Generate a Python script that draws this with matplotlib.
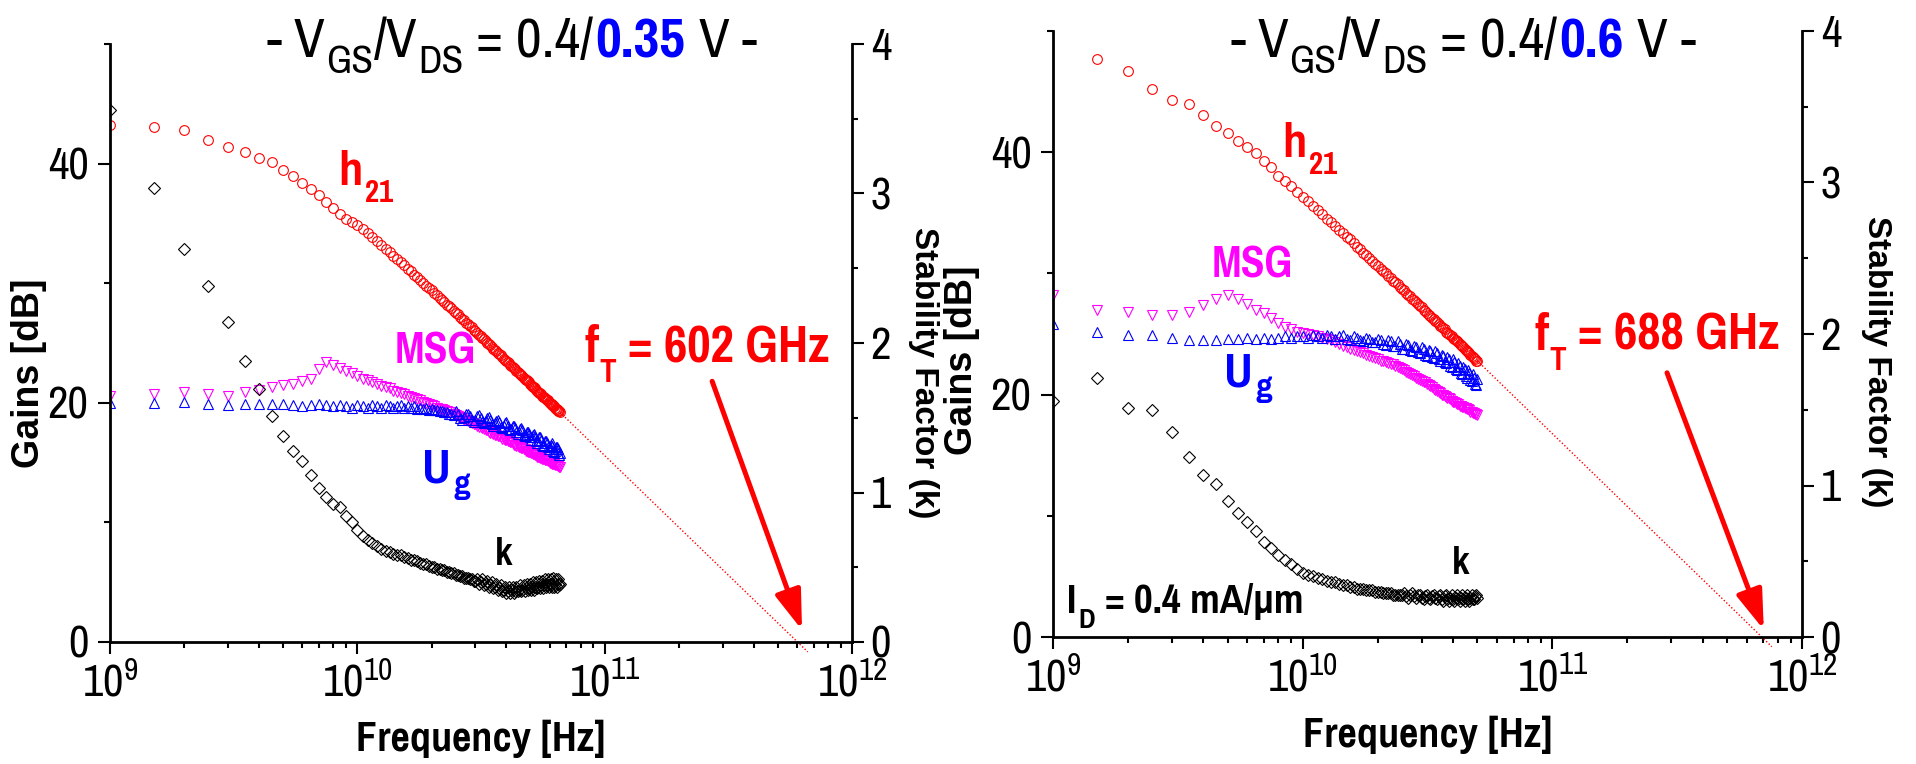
import numpy as np
import matplotlib
matplotlib.use('Agg')
import matplotlib.pyplot as plt
from matplotlib import font_manager
from matplotlib.ticker import MultipleLocator, LogLocator, NullFormatter

# narrow face for horizontal text (the original uses an Arial Narrow look)
weights = {}
for fe in font_manager.fontManager.ttflist:
    weights.setdefault(fe.name, set()).add(fe.weight)
NARROW = 'Liberation Sans'
for cand in ['Pragati Narrow', 'PT Sans Narrow', 'Barlow Semi Condensed', 'Asap Condensed']:
    ws = weights.get(cand, set())
    if 400 in ws and 700 in ws:
        NARROW = cand
        break

plt.rcParams['font.family'] = [NARROW, 'Liberation Sans', 'DejaVu Sans']
plt.rcParams['mathtext.fontset'] = 'custom'
plt.rcParams['mathtext.rm'] = NARROW
plt.rcParams['mathtext.bf'] = NARROW + ':bold'

RED, MAG, BLUE = '#FF0000', '#FF00FF', '#0000FF'
WIDE = ['Liberation Sans', 'DejaVu Sans']

# ---- data: measured sweep, 0.5 GHz step ----
freq_a = np.arange(1.0, 66.5, 0.5)   # GHz, V_DS = 0.35 V
freq_b = np.arange(1.0, 50.5, 0.5)   # GHz, V_DS = 0.6 V
ft_a, ft_b = 602, 688                # GHz

h21_a = [43.2, 43.1, 42.8, 42.0, 41.4, 41.0, 40.5, 40.1, 39.5, 39.0,
         38.4, 37.9, 37.4, 36.8, 36.3, 35.8, 35.4, 35.1,
         34.9, 34.5, 34.2, 33.9, 33.5, 33.2, 32.9, 32.6, 32.3, 32.0,
         31.8, 31.5, 31.2, 31.0, 30.7, 30.5, 30.3, 30.0, 29.8, 29.6,
         29.4, 29.2, 29.0, 28.8, 28.6, 28.4, 28.2, 28.1, 27.9, 27.7,
         27.5, 27.4, 27.2, 27.0, 26.9, 26.7, 26.6, 26.4, 26.3, 26.1,
         26.0, 25.8, 25.7, 25.6, 25.4, 25.3, 25.2, 25.0, 24.9, 24.8,
         24.7, 24.5, 24.4, 24.3, 24.2, 24.1, 24.0, 23.8, 23.7, 23.6,
         23.5, 23.4, 23.3, 23.2, 23.1, 23.0, 22.9, 22.8, 22.7, 22.6,
         22.5, 22.4, 22.3, 22.2, 22.1, 22.0, 21.9, 21.9, 21.8, 21.7,
         21.6, 21.5, 21.4, 21.3, 21.3, 21.2, 21.1, 21.0, 20.9, 20.8,
         20.8, 20.7, 20.6, 20.5, 20.5, 20.4, 20.3, 20.2, 20.2, 20.1,
         20.0, 19.9, 19.9, 19.8, 19.7, 19.7, 19.6, 19.5, 19.5, 19.4,
         19.3, 19.3, 19.2]
msg_a = [20.6, 20.7, 20.9, 20.7, 20.6, 20.9, 21.1, 21.3, 21.5, 21.6,
         21.8, 22.0, 22.8, 23.4, 23.2, 22.9, 22.7, 22.5,
         22.2, 22.0, 21.9, 21.7, 21.6, 21.4, 21.3, 21.2, 21.0, 20.9,
         20.8, 20.7, 20.6, 20.5, 20.4, 20.3, 20.2, 20.1, 20.0, 19.9,
         19.8, 19.7, 19.6, 19.5, 19.5, 19.4, 19.3, 19.2, 19.2, 19.1,
         19.0, 18.9, 18.8, 18.7, 18.6, 18.6, 18.5, 18.4, 18.3, 18.2,
         18.2, 18.1, 18.0, 18.0, 17.9, 17.8, 17.7, 17.7, 17.6, 17.5,
         17.5, 17.4, 17.3, 17.3, 17.2, 17.2, 17.1, 17.0, 17.0, 16.9,
         16.9, 16.8, 16.8, 16.7, 16.7, 16.6, 16.5, 16.5, 16.4, 16.4,
         16.3, 16.3, 16.2, 16.2, 16.1, 16.1, 16.0, 16.0, 15.9, 15.9,
         15.9, 15.8, 15.8, 15.7, 15.7, 15.6, 15.6, 15.5, 15.5, 15.5,
         15.4, 15.4, 15.3, 15.3, 15.3, 15.2, 15.2, 15.2, 15.1, 15.1,
         15.0, 15.0, 15.0, 14.9, 14.9, 14.9, 14.8, 14.8, 14.8, 14.7,
         14.7, 14.6, 14.6]
ug_a = [20.0, 20.0, 20.1, 19.9, 19.8, 19.9, 19.9, 19.9, 19.9, 19.8,
        19.7, 19.8, 19.9, 19.8, 19.7, 19.8, 19.7, 19.6,
        19.8, 19.7, 19.6, 19.8, 19.7, 19.6, 19.8, 19.7, 19.6, 19.7,
        19.8, 19.6, 19.7, 19.6, 19.7, 19.5, 19.6, 19.5, 19.6, 19.4,
        19.5, 19.4, 19.4, 19.3, 19.3, 19.2, 19.2, 19.1, 19.1, 19.0,
        19.3, 19.1, 18.7, 18.6, 18.8, 19.1, 19.1, 18.9, 18.6, 18.4,
        18.6, 18.9, 19.0, 18.7, 18.4, 18.3, 18.5, 18.7, 18.8, 18.6,
        18.2, 18.1, 18.3, 18.5, 18.6, 18.4, 18.0, 17.9, 18.1, 18.3,
        18.4, 18.1, 17.8, 17.7, 17.8, 18.1, 18.1, 17.9, 17.6, 17.4,
        17.6, 17.8, 17.9, 17.7, 17.3, 17.2, 17.3, 17.6, 17.6, 17.4,
        17.1, 16.9, 17.1, 17.3, 17.4, 17.1, 16.8, 16.6, 16.8, 17.1,
        17.1, 16.9, 16.5, 16.4, 16.5, 16.8, 16.8, 16.6, 16.3, 16.1,
        16.3, 16.5, 16.6, 16.4, 16.0, 15.9, 16.0, 16.3, 16.3, 16.1,
        15.8, 15.6, 15.8]
k_a = [3.56, 3.04, 2.63, 2.38, 2.14, 1.88, 1.69, 1.51, 1.38, 1.28,
       1.21, 1.12, 1.03, 0.97, 0.92, 0.90, 0.84, 0.80,
       0.75, 0.71, 0.68, 0.66, 0.64, 0.62, 0.61, 0.60, 0.59, 0.58,
       0.58, 0.57, 0.56, 0.55, 0.55, 0.54, 0.53, 0.52, 0.52, 0.51,
       0.50, 0.50, 0.49, 0.49, 0.48, 0.48, 0.47, 0.47, 0.46, 0.46,
       0.45, 0.45, 0.44, 0.44, 0.43, 0.43, 0.43, 0.42, 0.42, 0.41,
       0.41, 0.42, 0.39, 0.40, 0.42, 0.38, 0.39, 0.41, 0.37, 0.38,
       0.40, 0.36, 0.37, 0.39, 0.35, 0.36, 0.38, 0.34, 0.35, 0.37,
       0.33, 0.34, 0.37, 0.33, 0.35, 0.37, 0.33, 0.34, 0.37, 0.34,
       0.35, 0.38, 0.34, 0.35, 0.38, 0.34, 0.36, 0.39, 0.35, 0.36,
       0.39, 0.35, 0.37, 0.40, 0.35, 0.37, 0.40, 0.36, 0.37, 0.41,
       0.36, 0.38, 0.41, 0.36, 0.38, 0.42, 0.37, 0.38, 0.42, 0.37,
       0.39, 0.42, 0.37, 0.39, 0.43, 0.37, 0.39, 0.42, 0.37, 0.39,
       0.42, 0.38, 0.39]

h21_b = [np.nan, 47.7, 46.7, 45.2, 44.3, 44.0, 43.1, 42.2, 41.6, 40.9,
         40.4, 39.9, 39.3, 38.8, 38.0, 37.6, 37.2, 36.7,
         36.3, 36.0, 35.6, 35.2, 34.9, 34.5, 34.2, 33.9, 33.6, 33.3,
         33.0, 32.8, 32.5, 32.2, 32.0, 31.7, 31.5, 31.3, 31.0, 30.8,
         30.6, 30.4, 30.2, 30.0, 29.8, 29.6, 29.4, 29.3, 29.1, 28.9,
         28.7, 28.6, 28.4, 28.2, 28.1, 27.9, 27.8, 27.6, 27.5, 27.3,
         27.2, 27.0, 26.9, 26.7, 26.6, 26.5, 26.3, 26.2, 26.1, 26.0,
         25.8, 25.7, 25.6, 25.5, 25.4, 25.2, 25.1, 25.0, 24.9, 24.8,
         24.7, 24.6, 24.5, 24.4, 24.3, 24.2, 24.1, 24.0, 23.9, 23.8,
         23.7, 23.6, 23.5, 23.4, 23.3, 23.2, 23.1, 23.0, 22.9, 22.8,
         22.8]
msg_b = [28.2, 27.0, 26.8, 26.6, 26.6, 26.8, 27.4, 27.9, 28.2, 27.9,
         27.5, 27.0, 26.7, 26.3, 25.9, 25.6, 25.4, 25.2,
         25.1, 25.0, 24.9, 24.8, 24.7, 24.6, 24.5, 24.3, 24.2, 24.0,
         23.9, 23.8, 23.7, 23.6, 23.5, 23.4, 23.3, 23.2, 23.1, 23.0,
         22.9, 22.8, 22.8, 22.7, 22.6, 22.5, 22.5, 22.4, 22.3, 22.2,
         22.1, 22.0, 21.9, 21.8, 21.7, 21.6, 21.5, 21.4, 21.3, 21.2,
         21.1, 21.0, 21.0, 20.9, 20.8, 20.7, 20.6, 20.5, 20.4, 20.3,
         20.2, 20.1, 20.0, 20.0, 19.9, 19.8, 19.7, 19.7, 19.6, 19.5,
         19.4, 19.4, 19.3, 19.2, 19.2, 19.1, 19.1, 19.0, 19.0, 18.9,
         18.9, 18.8, 18.8, 18.7, 18.6, 18.6, 18.5, 18.5, 18.4, 18.4,
         18.3]
ug_b = [25.8, 25.2, 24.9, 24.9, 24.7, 24.5, 24.5, 24.5, 24.6, 24.6,
        24.7, 24.6, 24.7, 24.6, 24.7, 24.8, 24.7, 24.8,
        24.8, 24.7, 24.9, 24.8, 24.7, 24.9, 24.8, 24.6, 24.8, 24.9,
        24.6, 24.5, 24.8, 24.7, 24.5, 24.4, 24.7, 24.6, 24.3, 24.3,
        24.6, 24.5, 24.2, 24.1, 24.5, 24.4, 24.0, 24.0, 24.4, 24.2,
        23.8, 23.8, 24.2, 24.1, 23.7, 23.6, 24.0, 23.9, 23.5, 23.4,
        23.9, 23.8, 23.3, 23.2, 23.7, 23.6, 23.1, 23.0, 23.6, 23.4,
        22.9, 22.8, 23.3, 23.2, 22.7, 22.6, 23.1, 22.9, 22.4, 22.3,
        22.9, 22.7, 22.1, 22.0, 22.6, 22.4, 21.8, 21.7, 22.3, 22.1,
        21.5, 21.4, 22.0, 21.8, 21.2, 21.1, 21.7, 21.4, 20.9, 20.8,
        21.3]
k_b = [1.56, 1.71, 1.51, 1.50, 1.35, 1.19, 1.07, 1.01, 0.90, 0.82,
       0.76, 0.70, 0.63, 0.59, 0.54, 0.51, 0.48, 0.45,
       0.42, 0.41, 0.40, 0.39, 0.38, 0.37, 0.36, 0.36, 0.35, 0.34,
       0.34, 0.33, 0.33, 0.32, 0.32, 0.32, 0.31, 0.31, 0.31, 0.30,
       0.30, 0.30, 0.29, 0.29, 0.29, 0.29, 0.28, 0.28, 0.28, 0.28,
       0.28, 0.29, 0.27, 0.26, 0.28, 0.29, 0.27, 0.26, 0.28, 0.28,
       0.26, 0.25, 0.27, 0.28, 0.26, 0.25, 0.27, 0.28, 0.26, 0.25,
       0.27, 0.28, 0.25, 0.24, 0.27, 0.28, 0.25, 0.24, 0.26, 0.28,
       0.25, 0.24, 0.26, 0.28, 0.25, 0.24, 0.26, 0.28, 0.25, 0.24,
       0.26, 0.28, 0.25, 0.24, 0.26, 0.28, 0.25, 0.25, 0.27, 0.28,
       0.26]

W, H = 1916, 764
fig = plt.figure(figsize=(W / 100, H / 100), dpi=100)
R = fig.canvas.get_renderer()


def rich(ax, x, y, parts, xycoords='data', ha='left'):
    # parts: (text, size, color, weight, dy_px, gap_px) laid out left to right
    arts = [ax.annotate(s, xy=(x, y), xycoords=xycoords, xytext=(0, 0),
                        textcoords='offset pixels', fontsize=sz, color=c,
                        fontweight=w, va='baseline', ha='left', annotation_clip=False)
            for s, sz, c, w, dy, gap in parts]
    widths = [a.get_window_extent(R).width for a in arts]
    ox = 0.0
    if ha == 'center':
        ox = -(sum(widths) + sum(p[5] for p in parts)) / 2
    for a, wd, p in zip(arts, widths, parts):
        ox += p[5]
        a.xyann = (ox, p[4])
        ox += wd


def panel(rect, freq, h21, msg, ug, k, ft, arrow_from, arrow_to):
    f = freq * 1e9
    ax = fig.add_axes(rect)
    ax2 = ax.twinx()

    ax.plot(f, h21, 'o', ls='none', mfc='none', mec=RED, ms=7, mew=0.8)
    ax.plot(f, msg, 'v', ls='none', mfc='none', mec=MAG, ms=7.5, mew=0.8)
    ax.plot(f, ug, '^', ls='none', mfc='none', mec=BLUE, ms=7.5, mew=0.8)
    ax2.plot(f, k, 'D', ls='none', mfc='none', mec='black', ms=6, mew=0.8)

    # -20 dB/dec extrapolation of h21 down to fT
    f_last, g_last = f[-1], h21[-1]
    f_end = ft * 1e9 * 1.1
    ax.plot([f_last, f_end], [g_last, g_last - 20 * np.log10(f_end / f_last)],
            color=RED, lw=1.0, ls=(0, (1, 1.5)), clip_on=False)
    ax.annotate('', xy=arrow_to, xytext=arrow_from,
                arrowprops=dict(arrowstyle='-|>,head_length=1.2,head_width=0.4',
                                color=RED, lw=3.6, mutation_scale=20,
                                shrinkA=0, shrinkB=0))

    ax.set_xscale('log')
    ax.set_xlim(1e9, 1e12)
    ax.set_ylim(0, 50)
    ax2.set_ylim(0, 4)
    ax.xaxis.set_major_locator(LogLocator(base=10, numticks=10))
    ax.xaxis.set_minor_locator(LogLocator(base=10, subs=np.arange(2, 10), numticks=30))
    ax.xaxis.set_minor_formatter(NullFormatter())
    ax.yaxis.set_major_locator(MultipleLocator(20))
    ax.yaxis.set_minor_locator(MultipleLocator(10))
    ax2.yaxis.set_major_locator(MultipleLocator(1))
    ax2.yaxis.set_minor_locator(MultipleLocator(0.5))

    for a in (ax, ax2):
        a.spines['top'].set_visible(False)
        for s in a.spines.values():
            s.set_linewidth(2)
        a.tick_params(which='major', direction='out', length=8.5, width=1.5, labelsize=35, pad=5)
        a.tick_params(which='minor', direction='out', length=4.5, width=1.5)
    ax.spines['right'].set_visible(False)
    ax2.spines['left'].set_visible(False)
    ax2.spines['bottom'].set_visible(False)
    ax.tick_params(axis='y', which='major', pad=7)
    ax.tick_params(axis='x', which='major', labelsize=35, pad=6)

    ax.set_xlabel('Frequency [Hz]', fontsize=33, fontweight='bold')
    ax.set_ylabel('Gains [dB]', fontsize=27, fontweight='bold', family=WIDE)
    ax2.set_ylabel('Stability Factor (k)', fontsize=24, fontweight='bold', rotation=-90,
                   family=WIDE)
    for lab in (ax.xaxis.label, ax.yaxis.label, ax2.yaxis.label):
        lab.set_va('center')
        lab.set_ha('center')
    return ax, ax2


def labels(ax, ft, pos):
    b = 'bold'
    rich(ax, *pos['h21'], [('h', 38, RED, b, 0, 0), ('21', 24, RED, b, -17, 2)])
    ax.text(*pos['msg'], 'MSG', color=MAG, fontsize=34, fontweight=b)
    rich(ax, *pos['ug'], [('U', 38, BLUE, b, 0, 0), ('g', 26, BLUE, b, -11, 3)])
    ax.text(*pos['k'], 'k', color='black', fontsize=30, fontweight=b)
    rich(ax, *pos['ft'], [('f', 40, RED, b, 0, 0), ('T', 26, RED, b, -20, 1),
                          ('= %d GHz' % ft, 40, RED, b, 0, 12)])


# left panel: V_DS = 0.35 V
axa, axa2 = panel([110 / W, 1 - 642 / H, 742 / W, 598 / H], freq_a, h21_a, msg_a, ug_a, k_a,
                  ft_a, (2.72e11, 21.8), (6.28e11, 1.0))
axa.xaxis.set_label_coords(0.5, -0.162)
axa.yaxis.set_label_coords(-0.109, 0.45)
axa2.yaxis.set_label_coords(1.096, 0.45)
labels(axa, ft_a, dict(h21=(8.4e9, 38.2), msg=(14.2e9, 23.3), ug=(18.2e9, 13.3),
                       k=(3.6e10, 6.4), ft=(8.3e10, 23.4)))

# right panel: V_DS = 0.6 V
axb, axb2 = panel([1053 / W, 1 - 637 / H, 749 / W, 606 / H], freq_b, h21_b, msg_b, ug_b, k_b,
                  ft_b, (2.88e11, 21.8), (7.03e11, 0.6))
axb.xaxis.set_label_coords(0.5, -0.162)
axb.yaxis.set_label_coords(-0.1215, 0.457)
axb2.yaxis.set_label_coords(1.10, 0.455)
labels(axb, ft_b, dict(h21=(8.3e9, 39.6), msg=(4.3e9, 29.7), ug=(4.85e9, 20.7),
                       k=(3.96e10, 5.2), ft=(8.5e10, 23.7)))
rich(axb, 1.14e9, 2.0, [('I', 32, 'black', 'bold', 0, 0), ('D', 22, 'black', 'bold', -15, 2),
                        ('= 0.4 mA/μm', 32, 'black', 'bold', 0, 10)])

# titles live on a transparent overlay so no axes background covers them
top = fig.add_axes([0, 0, 1, 1])
top.axis('off')


def title(xc, vds):
    n = 'normal'
    rich(top, xc, H - 57, [('-', 44, 'black', n, 0, 0), ('V', 44, 'black', n, 0, 12),
                           ('GS', 31, 'black', n, -16, 1), ('/V', 44, 'black', n, 0, 1),
                           ('DS', 31, 'black', n, -16, 1), ('= 0.4/', 44, 'black', n, 0, 13),
                           (vds, 44, BLUE, 'bold', 0, 2), ('V', 44, 'black', n, 0, 13),
                           ('-', 44, 'black', n, 0, 13)],
         xycoords='figure pixels', ha='center')


title(512, '0.35')
title(1463, '0.6')

fig.savefig('out.png', dpi=100)
